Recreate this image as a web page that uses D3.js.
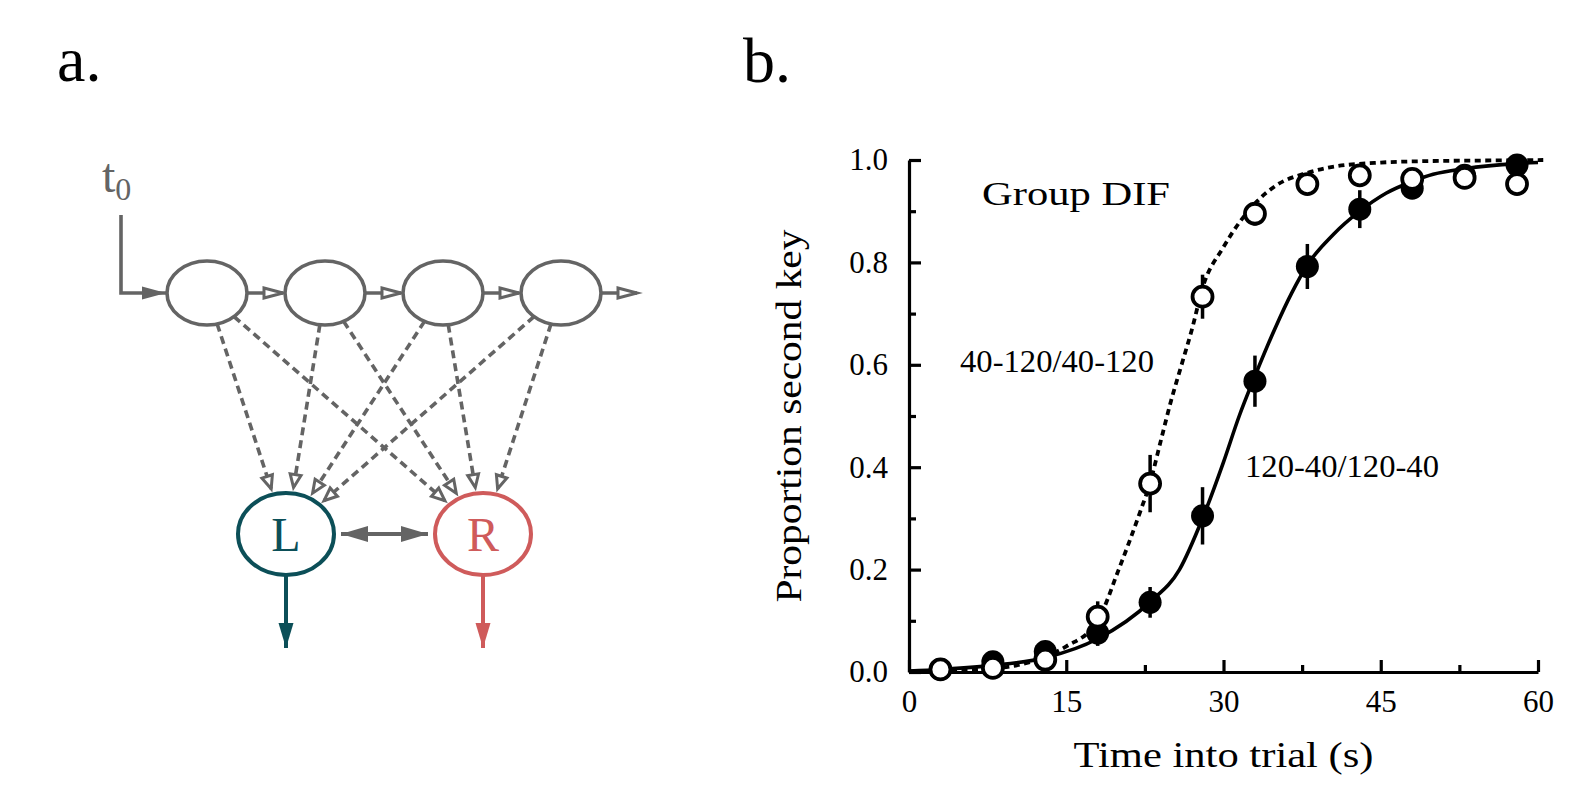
<!DOCTYPE html>
<html><head><meta charset="utf-8">
<script src="https://cdn.jsdelivr.net/npm/d3@7"></script>
<style>
html,body{margin:0;padding:0;background:#fff;}
svg{display:block;}
text{font-family:"Liberation Serif","Times New Roman",serif;}
</style>
</head><body>
<svg id="chart" width="1580" height="793"></svg>
<script>
// ---------------- data (panel b) ----------------
const times = [3, 8, 13, 18, 23, 28, 33, 38, 43, 48, 53, 58];
const openProp = [0.005, 0.008, 0.024, 0.108, 0.368, 0.733, 0.895, 0.953, 0.970, 0.963, 0.965, 0.953];
const openErr  = [0, 0, 0.008, 0.03, 0.056, 0.043, 0.023, 0.01, 0.008, 0.006, 0.006, 0.006];
const filledProp = [0.005, 0.02, 0.04, 0.076, 0.136, 0.305, 0.568, 0.792, 0.904, 0.945, 0.97, 0.99];
const filledErr  = [0, 0.006, 0.01, 0.025, 0.03, 0.056, 0.05, 0.044, 0.037, 0.015, 0.008, 0.006];
// fitted curves
const dottedT = [0, 5, 10, 13, 15, 18, 20, 22, 23, 24, 25, 26, 27, 28, 30, 33, 35, 38, 40, 45, 50, 55, 60.5];
const dottedP = [0.001, 0.003, 0.012, 0.03, 0.05, 0.1, 0.2, 0.31, 0.37, 0.45, 0.53, 0.6, 0.67, 0.75, 0.83, 0.915, 0.95, 0.975, 0.985, 0.995, 0.998, 0.999, 1.0];
const solidT = [0, 3, 8, 13, 18, 23, 25.8, 28, 30, 31.5, 33, 35, 36.5, 38, 40.5, 43, 45.5, 48, 50, 53, 58, 60];
const solidP = [0.002, 0.005, 0.013, 0.028, 0.065, 0.137, 0.2, 0.3, 0.41, 0.5, 0.578, 0.675, 0.74, 0.795, 0.855, 0.9, 0.935, 0.958, 0.972, 0.983, 0.993, 0.995];
const xMajor = [0, 15, 30, 45, 60];
const xMinor = [7.5, 22.5, 37.5, 52.5];
const yMajor = [0, 0.2, 0.4, 0.6, 0.8, 1.0];
const yMinor = [0.1, 0.3, 0.5, 0.7, 0.9];
const labelOpen = "40-120/40-120";
const labelFilled = "120-40/120-40";
const groupLabel = "Group DIF";
const xTitle = "Time into trial (s)";
const yTitle = "Proportion second key";

// ---------------- data (panel a) ----------------
const topNodes = [0, 1, 2, 3];
const outNodes = [{label: "L", color: "#0c4f58"}, {label: "R", color: "#cf5b5b"}];

const gray = "#646464";
const FONT = "Liberation Serif";
const svg = d3.select("#chart");

// ================= PANEL B =================
const x = d3.scaleLinear().domain([0, 60]).range([909, 1538]);
const y = d3.scaleLinear().domain([0, 1]).range([672, 160]);

function styleAxis(g) {
  g.selectAll("path.domain").attr("stroke", "#000").attr("stroke-width", 3.2);
  g.selectAll(".tick line").attr("stroke", "#000").attr("stroke-width", 3.2);
  g.selectAll(".tick text").attr("font-family", FONT).attr("font-size", 31).attr("fill", "#000");
}
const gx = svg.append("g").attr("transform", `translate(0,${y(0)})`)
  .call(d3.axisBottom(x).tickValues(xMajor).tickFormat(d3.format("d")).tickSizeInner(-12).tickSizeOuter(0).tickPadding(18));
styleAxis(gx);
const gxm = svg.append("g").attr("transform", `translate(0,${y(0)})`)
  .call(d3.axisBottom(x).tickValues(xMinor).tickFormat("").tickSizeInner(-7).tickSizeOuter(0));
styleAxis(gxm); gxm.select("path.domain").remove();

const gy = svg.append("g").attr("transform", `translate(${x(0)},0)`)
  .call(d3.axisLeft(y).tickValues(yMajor).tickFormat(d3.format(".1f")).tickSizeInner(-12).tickSizeOuter(0).tickPadding(21));
styleAxis(gy);
const gym = svg.append("g").attr("transform", `translate(${x(0)},0)`)
  .call(d3.axisLeft(y).tickValues(yMinor).tickFormat("").tickSizeInner(-7).tickSizeOuter(0));
styleAxis(gym); gym.select("path.domain").remove();

// curves
const line = d3.line().x(d => x(d[0])).y(d => y(d[1])).curve(d3.curveMonotoneX);
svg.append("path").datum(solidT.map((t, i) => [t, solidP[i]]))
  .attr("d", line).attr("fill", "none").attr("stroke", "#000").attr("stroke-width", 3.6);
svg.append("path").datum(dottedT.map((t, i) => [t, dottedP[i]]))
  .attr("d", line).attr("fill", "none").attr("stroke", "#000").attr("stroke-width", 3.8)
  .attr("stroke-dasharray", "6,4.5");

// error bars
function errBars(vals, errs) {
  svg.append("g").selectAll("line").data(times.map((t, i) => [t, vals[i], errs[i]]).filter(d => d[2] > 0))
    .join("line")
    .attr("x1", d => x(d[0])).attr("x2", d => x(d[0]))
    .attr("y1", d => y(d[1] - d[2])).attr("y2", d => y(d[1] + d[2]))
    .attr("stroke", "#000").attr("stroke-width", 3.5);
}
errBars(filledProp, filledErr);
errBars(openProp, openErr);

// filled points
svg.append("g").selectAll("circle").data(times.map((t, i) => [t, filledProp[i]]))
  .join("circle").attr("cx", d => x(d[0])).attr("cy", d => y(d[1])).attr("r", 11.5).attr("fill", "#000");
// open points
svg.append("g").selectAll("circle").data(times.map((t, i) => [t, openProp[i]]))
  .join("circle").attr("cx", d => x(d[0])).attr("cy", d => y(d[1])).attr("r", 10)
  .attr("fill", "#fff").attr("stroke", "#000").attr("stroke-width", 3.8);

// annotations
svg.append("text").attr("x", 982).attr("y", 205).attr("font-size", 34).attr("font-family", FONT)
  .attr("textLength", 188).attr("lengthAdjust", "spacingAndGlyphs").text(groupLabel);
svg.append("text").attr("x", 960).attr("y", 372).attr("font-size", 31).attr("font-family", FONT)
  .attr("textLength", 194).attr("lengthAdjust", "spacingAndGlyphs").text(labelOpen);
svg.append("text").attr("x", 1245).attr("y", 477).attr("font-size", 31).attr("font-family", FONT)
  .attr("textLength", 194).attr("lengthAdjust", "spacingAndGlyphs").text(labelFilled);

// axis titles
svg.append("text").attr("x", (x(0) + x(60)) / 2).attr("y", 767).attr("text-anchor", "middle").attr("font-family", FONT)
  .attr("font-size", 36).attr("textLength", 300).attr("lengthAdjust", "spacingAndGlyphs").text(xTitle);
svg.append("text").attr("transform", `translate(801,${(y(0) + y(1)) / 2}) rotate(-90)`).attr("text-anchor", "middle")
  .attr("font-family", FONT).attr("font-size", 36).attr("textLength", 373).attr("lengthAdjust", "spacingAndGlyphs").text(yTitle);

// panel labels
svg.append("text").attr("x", 57).attr("y", 81).attr("font-size", 64).attr("font-family", FONT).text("a.");
svg.append("text").attr("x", 743).attr("y", 82).attr("font-size", 64).attr("font-family", FONT).text("b.");

// ================= PANEL A =================
const defs = svg.append("defs");
function marker(id, w, h, fill, stroke, sw) {
  defs.append("marker").attr("id", id).attr("markerUnits", "userSpaceOnUse")
    .attr("markerWidth", w + 6).attr("markerHeight", h + 6)
    .attr("refX", w).attr("refY", h / 2).attr("orient", "auto-start-reverse")
    .style("overflow", "visible")
    .append("path").attr("d", `M0,0L${w},${h / 2}L0,${h}Z`)
    .attr("fill", fill).attr("stroke", stroke || "none").attr("stroke-width", sw || 0)
    .attr("stroke-linejoin", "miter");
}
marker("hollowTop", 19, 10, "#fff", gray, 3);
marker("hollowDash", 13, 11, "#fff", gray, 3);
marker("filledGray", 24, 13, gray);
marker("filledGray2", 27, 16, gray);
outNodes.forEach((n, i) => marker("filledOut" + i, 25, 15, n.color));

const xTop = d3.scaleLinear().domain([0, 3]).range([207, 561]);
const yTop = 293, rxT = 40, ryT = 32;
const xOut = d3.scaleLinear().domain([0, 1]).range([286, 483]);
const yOut = 534, rxO = 48, ryO = 41;

function edgePt(cx, cy, rx, ry, dx, dy) {
  const s = 1 / Math.sqrt((dx / rx) ** 2 + (dy / ry) ** 2);
  return [cx + dx * s, cy + dy * s];
}

// dashed connections
const edges = [];
topNodes.forEach(i => outNodes.forEach((n, j) => edges.push([i, j])));
svg.append("g").selectAll("path").data(edges).join("path")
  .attr("d", ([i, j]) => {
    const sx = xTop(i), sy = yTop, tx = xOut(j), ty = yOut;
    const dx = tx - sx, dy = ty - sy;
    const a = edgePt(sx, sy, rxT, ryT, dx, dy);
    const b = edgePt(tx, ty, rxO, ryO, -dx, -dy);
    const L = Math.hypot(dx, dy);
    const bx = b[0] - dx / L * 6, by = b[1] - dy / L * 6;
    return `M${a[0]},${a[1]}L${bx},${by}`;
  })
  .attr("fill", "none").attr("stroke", gray).attr("stroke-width", 3.6)
  .attr("stroke-dasharray", "8,5").attr("marker-end", "url(#hollowDash)");

// t0 input line
svg.append("path").attr("d", `M121,215V${yTop}H${xTop(0) - rxT - 1}`)
  .attr("fill", "none").attr("stroke", gray).attr("stroke-width", 3.6).attr("marker-end", "url(#filledGray)");
// chain arrows
svg.append("g").selectAll("path").data(topNodes).join("path")
  .attr("d", i => {
    const x1 = xTop(i) + rxT;
    const x2 = i < 3 ? xTop(i + 1) - rxT - 2 : xTop(i) + rxT + 36;
    return `M${x1},${yTop}H${x2}`;
  })
  .attr("fill", "none").attr("stroke", gray).attr("stroke-width", 3.6).attr("marker-end", "url(#hollowTop)");

// top ellipses
svg.append("g").selectAll("ellipse").data(topNodes).join("ellipse")
  .attr("cx", i => xTop(i)).attr("cy", yTop).attr("rx", rxT).attr("ry", ryT)
  .attr("fill", "#fff").attr("stroke", gray).attr("stroke-width", 3.6);

// L <-> R double arrow
svg.append("path").attr("d", `M${xOut(0) + rxO + 7},${yOut}H${xOut(1) - rxO - 7}`)
  .attr("stroke", gray).attr("stroke-width", 4)
  .attr("marker-start", "url(#filledGray2)").attr("marker-end", "url(#filledGray2)");

// output nodes
const og = svg.append("g").selectAll("g").data(outNodes).join("g");
og.append("path").attr("d", (d, j) => `M${xOut(j)},${yOut + ryO}V${yOut + ryO + 73}`)
  .attr("stroke", d => d.color).attr("stroke-width", 4)
  .attr("marker-end", (d, j) => `url(#filledOut${j})`);
og.append("ellipse").attr("cx", (d, j) => xOut(j)).attr("cy", yOut).attr("rx", rxO).attr("ry", ryO)
  .attr("fill", "#fff").attr("stroke", d => d.color).attr("stroke-width", 4);
og.append("text").attr("x", (d, j) => xOut(j)).attr("y", yOut + 17).attr("text-anchor", "middle")
  .attr("font-family", FONT).attr("font-size", 48).attr("fill", d => d.color).text(d => d.label);

// t0 label
const t0 = svg.append("text").attr("x", 102).attr("y", 192).attr("fill", gray).attr("font-family", FONT).attr("font-size", 48);
t0.append("tspan").text("t");
t0.append("tspan").attr("font-size", 32).attr("dy", 8).text("0");
</script>
</body></html>
